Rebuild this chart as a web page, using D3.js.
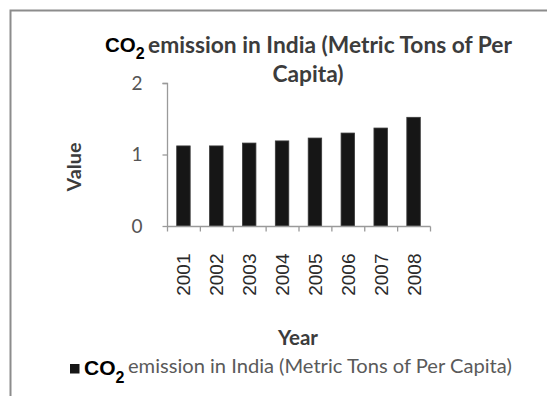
<!DOCTYPE html>
<html>
<head>
<meta charset="utf-8">
<script src="https://cdn.jsdelivr.net/npm/d3@7"></script>
<style>
  html, body { margin: 0; padding: 0; background: #fff; }
  svg { display: block; }
</style>
</head>
<body>
<svg id="chart" width="547" height="396"></svg>
<script>
// Per-capita CO2 emission in India, metric tons
const years = ["2001", "2002", "2003", "2004", "2005", "2006", "2007", "2008"];
const emission = [1.12, 1.12, 1.16, 1.19, 1.23, 1.30, 1.37, 1.52];
const yTicks = [0, 1, 2];
const titleLines = ["emission in India (Metric Tons of Per", "Capita)"];
const legendLabel = "emission in India (Metric Tons of Per Capita)";

const svg = d3.select("#chart");
const W = 547, H = 396;
const bodyFont = "Lato, 'Open Sans', sans-serif";
const chemFont = "'Liberation Sans', Arial, sans-serif";

// Scale a text node's font size so it spans a given width
function fitWidth(sel, target) {
  const node = sel.node();
  const fs = parseFloat(sel.attr("font-size"));
  const w = node.getComputedTextLength();
  if (w > 0) sel.attr("font-size", (fs * target / w).toFixed(2));
  return sel;
}

// Outer frame (left and top edges)
svg.append("path")
  .attr("d", `M10.5,${H} V10.5 H${W}`)
  .attr("fill", "none")
  .attr("stroke", "#8c8c8c")
  .attr("stroke-width", 2);

const plot = { left: 167, right: 430, top: 83, bottom: 226 };

const x = d3.scaleBand()
  .domain(years)
  .range([plot.left, plot.right])
  .paddingInner(0.59)
  .paddingOuter(0.295);

const y = d3.scaleLinear()
  .domain([0, 2])
  .range([plot.bottom, plot.top]);

// Bars
svg.append("g")
  .selectAll("rect")
  .data(years)
  .join("rect")
  .attr("x", d => x(d))
  .attr("y", (d, i) => y(emission[i]))
  .attr("width", x.bandwidth())
  .attr("height", (d, i) => y(0) - y(emission[i]))
  .attr("fill", "#161616")
  .attr("stroke", "#3a3a3a")
  .attr("stroke-width", 0.8);

// Y axis
const yAxis = svg.append("g")
  .attr("transform", `translate(${plot.left + 0.5},0)`)
  .call(d3.axisLeft(y).tickValues(yTicks).tickFormat(d3.format("d")).tickSize(5).tickPadding(20));
yAxis.select(".domain").attr("stroke", "#9a9a9a").attr("stroke-width", 1.3)
  .attr("d", `M-5,${plot.top + 0.5}H0V${plot.bottom}`);
yAxis.selectAll(".tick line").attr("stroke", "#9a9a9a").attr("stroke-width", 1.3);
yAxis.selectAll(".tick text")
  .attr("font-family", bodyFont)
  .attr("font-size", 19)
  .attr("fill", "#555");

// X axis: line, boundary ticks and rotated year labels
const xg = svg.append("g").attr("transform", `translate(0,${plot.bottom + 0.5})`);
xg.append("line")
  .attr("x1", plot.left).attr("x2", plot.right + 0.5)
  .attr("stroke", "#9a9a9a").attr("stroke-width", 1.3);
const bounds = years.map(d => x(d) - x.step() * x.paddingInner() / 2).concat([plot.right]);
bounds[0] = plot.left;
xg.selectAll("line.tk")
  .data(bounds)
  .join("line")
  .attr("class", "tk")
  .attr("x1", d => d + 0.5).attr("x2", d => d + 0.5)
  .attr("y1", 0).attr("y2", 5)
  .attr("stroke", "#9a9a9a").attr("stroke-width", 1.3);
xg.selectAll("text.yr")
  .data(years)
  .join("text")
  .attr("class", "yr")
  .attr("transform", d => `translate(${x(d) + x.bandwidth() / 2 + 7},27) rotate(-90)`)
  .attr("text-anchor", "end")
  .attr("font-family", chemFont)
  .attr("font-size", 19)
  .attr("fill", "#2a2a2a")
  .text(d => d);

// Title: chemical formula followed by the rest of the first line, second line centred below
const co2Title = svg.append("text")
  .attr("x", 105).attr("y", 52)
  .attr("font-family", chemFont)
  .attr("font-weight", "bold")
  .attr("font-size", 20.5)
  .attr("fill", "#000");
co2Title.append("tspan").text("CO");
co2Title.append("tspan").attr("font-size", 16).attr("dy", 7).text("2");
const t1 = svg.append("text")
  .attr("x", 148).attr("y", 53)
  .attr("font-family", bodyFont)
  .attr("font-weight", "bold")
  .attr("font-size", 18)
  .attr("fill", "#3c3c3c")
  .text(titleLines[0]);
fitWidth(t1, 364);
svg.append("text")
  .attr("x", 308).attr("y", 82)
  .attr("text-anchor", "middle")
  .attr("font-family", bodyFont)
  .attr("font-weight", "bold")
  .attr("font-size", t1.attr("font-size"))
  .attr("fill", "#3c3c3c")
  .text(titleLines[1]);

// Axis titles
const vt = svg.append("text")
  .attr("transform", "translate(81,167) rotate(-90)")
  .attr("text-anchor", "middle")
  .attr("font-family", bodyFont)
  .attr("font-weight", "bold")
  .attr("font-size", 17)
  .attr("fill", "#3c3c3c")
  .text("Value");
fitWidth(vt, 49);
const yt = svg.append("text")
  .attr("x", 298).attr("y", 345)
  .attr("text-anchor", "middle")
  .attr("font-family", bodyFont)
  .attr("font-weight", "bold")
  .attr("font-size", 18)
  .attr("fill", "#3c3c3c")
  .text("Year");
fitWidth(yt, 40);

// Legend
svg.append("rect")
  .attr("x", 70).attr("y", 364)
  .attr("width", 9.5).attr("height", 9.5)
  .attr("fill", "#161616");
const co2Leg = svg.append("text")
  .attr("x", 84).attr("y", 375)
  .attr("font-family", chemFont)
  .attr("font-weight", "bold")
  .attr("font-size", 21)
  .attr("fill", "#000");
co2Leg.append("tspan").text("CO");
co2Leg.append("tspan").attr("font-size", 16).attr("dy", 8).text("2");
const leg = svg.append("text")
  .attr("x", 128).attr("y", 373)
  .attr("font-family", bodyFont)
  .attr("font-size", 15)
  .attr("fill", "#5a5a5a")
  .text(legendLabel);
fitWidth(leg, 384);
</script>
</body>
</html>
